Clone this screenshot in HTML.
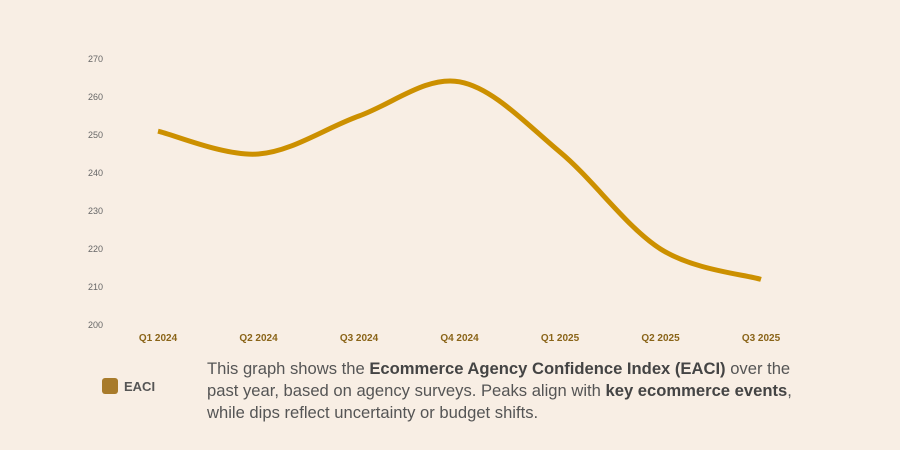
<!DOCTYPE html>
<html><head><meta charset="utf-8"><style>
body{margin:0;background:#f8eee4;width:900px;height:450px;overflow:hidden;font-family:"Liberation Sans",sans-serif}
svg{position:absolute;left:0;top:0}
#desc{position:absolute;left:207px;top:358px;white-space:nowrap;font-size:16.6px;line-height:22px;color:#555;}
#desc b{color:#444}
#legend{position:absolute;left:102px;top:378px;display:flex;align-items:center;font-size:13px;color:#555;font-weight:bold}
#legend span.sw{width:16px;height:16px;border-radius:3px;background:#a87b2b;margin-right:6px;display:inline-block}
</style></head><body>
<svg width="900" height="450">
<g id="yaxis"></g>
<g id="xaxis"></g>
<path id="line" fill="none" stroke="#cc9000" stroke-width="5" stroke-linecap="butt"></path>
</svg>
<div id="legend"><span class="sw"></span>EACI</div>
<div id="desc">This graph shows the <b>Ecommerce Agency Confidence Index (EACI)</b> over the<br>past year, based on agency surveys. Peaks align with <b>key ecommerce events</b>,<br>while dips reflect uncertainty or budget shifts.</div>
<script>
const categories=["Q1 2024","Q2 2024","Q3 2024","Q4 2024","Q1 2025","Q2 2025","Q3 2025"];
const values=[251,245,255,264,245.5,220,212];
const yTicks=[200,210,220,230,240,250,260,270];
const NS="http://www.w3.org/2000/svg";
function x(i){return 158+i*100.5;}
function y(v){return 325-(v-200)*3.8;}
const ya=document.getElementById('yaxis');
yTicks.forEach(t=>{const e=document.createElementNS(NS,'text');


e.setAttribute('x',103);e.setAttribute('y',y(t)+3);e.setAttribute('text-anchor','end');
e.setAttribute('font-size','9');e.setAttribute('fill','#666');e.textContent=t;ya.appendChild(e);});
const xa=document.getElementById('xaxis');
categories.forEach((c,i)=>{const e=document.createElementNS(NS,'text');


e.setAttribute('x',x(i));e.setAttribute('y',341);e.setAttribute('text-anchor','middle');
e.setAttribute('font-size','10');e.setAttribute('font-weight','bold');e.setAttribute('fill','#8a6418');e.textContent=c;xa.appendChild(e);});
const P=values.map((v,i)=>[x(i),y(v)]);
let d="M"+P[0][0]+","+P[0][1];
for(let i=0;i<P.length-1;i++){
 const p0=P[Math.max(i-1,0)],p1=P[i],p2=P[i+1],p3=P[Math.min(i+2,P.length-1)];
 const k=1/6;
 d+=" C"+(p1[0]+(p2[0]-p0[0])*k)+","+(p1[1]+(p2[1]-p0[1])*k)+" "+(p2[0]-(p3[0]-p1[0])*k)+","+(p2[1]-(p3[1]-p1[1])*k)+" "+p2[0]+","+p2[1];
}
document.getElementById('line').setAttribute('d',d);
</script>
</body></html>
